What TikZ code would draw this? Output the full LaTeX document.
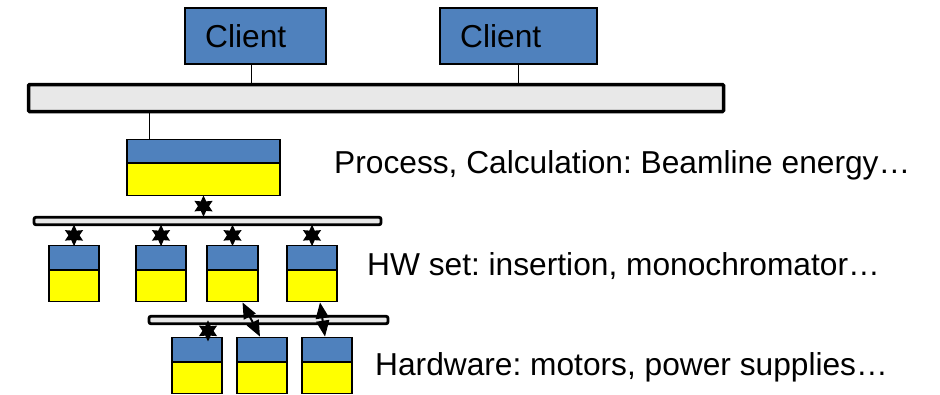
\documentclass[tikz,border=0pt]{standalone}
\usepackage{fontspec}
\setmainfont{Liberation Sans}
\usetikzlibrary{shapes.geometric,arrows.meta,calc}
\definecolor{boxblue}{HTML}{4F81BD}
\definecolor{boxyellow}{HTML}{FFFF00}
\definecolor{busgray}{HTML}{E8E8E8}
\frenchspacing
\tikzset{
  lbl/.style={inner sep=0pt, font=\fontsize{31.7}{36}\selectfont},
  clientbox/.style={draw=black, line width=2pt, fill=boxblue, inner sep=0pt, minimum height=56pt},
  bigbus/.style={draw=black, line width=3.5pt, fill=busgray, inner sep=0pt, rounded corners=1pt},
  smallbus/.style={draw=black, line width=2.8pt, fill=busgray, inner sep=0pt, rounded corners=2pt, minimum height=7.5pt},
  twotone/.style={draw=black, line width=1.8pt, fill=boxyellow, inner sep=0pt, minimum height=56pt,
    path picture={
      \fill[boxblue] (path picture bounding box.north west) rectangle
        ($(path picture bounding box.north east)!#1!(path picture bounding box.south east)$);
      \draw[line width=1.8pt] ($(path picture bounding box.north west)!#1!(path picture bounding box.south west)$) --
        ($(path picture bounding box.north east)!#1!(path picture bounding box.south east)$);
    }},
  twotone/.default=0.43,
  conn/.style={draw=black, line width=1pt},
  starmark/.style={star, star points=6, star point ratio=1.9, minimum size=21pt, fill=black, inner sep=0pt, draw=none},
  dblarrow/.style={draw=black, line width=2pt, {Triangle[length=16pt,width=13pt]}-{Triangle[length=16pt,width=13pt]}}
}
\begin{document}
\begin{tikzpicture}[x=1pt,y=-1pt]
\useasboundingbox (0,0) rectangle (940,394);

% clients
\node[clientbox, minimum width=141pt] (c1) at (255,36) {};
\node[clientbox, minimum width=157pt] (c2) at (518,35.5) {};
\node[lbl, anchor=base west] (c1t) at (205,47) {Client};
\node[lbl, anchor=base west] (c2t) at (460,47) {Client};

% main bus
\node[bigbus, minimum width=695pt, minimum height=27pt] (bus) at (376,98) {};
\draw[conn] ([xshift=-4pt]c1.south) -- ([xshift=-4pt]c1.south |- bus.north);
\draw[conn] (c2.south) -- (c2.south |- bus.north);

% process box
\node[twotone=0.42, minimum width=153pt] (proc) at (203.5,167.5) {};
\path (proc.north west) ++(23pt,0) coordinate (pl);
\draw[conn] (pl) -- (pl |- bus.south);

% HW bus
\node[smallbus, minimum width=347pt] (hwbus) at (207.5,221) {};
\draw[conn] (proc.south) -- (proc.south |- hwbus.north) node[midway, starmark] (s0) {};

% HW boxes
\node[twotone=0.44, minimum width=50pt] (h1) at (74,273.5) {};
\node[twotone=0.44, minimum width=50pt] (h2) at (161,273.5) {};
\node[twotone=0.44, minimum width=51pt] (h3) at (232.5,273.5) {};
\node[twotone=0.44, minimum width=50pt] (h4) at (312,273.5) {};
\foreach \h in {h1,h2,h3,h4}{
  \draw[conn] (\h.north) -- (\h.north |- hwbus.south) node[midway, starmark] {};
}

% hardware bus
\node[smallbus, minimum width=239pt] (hw2) at (268.5,320) {};

% lower boxes
\node[twotone=0.44, minimum width=50pt] (l1) at (197,365.5) {};
\node[twotone=0.44, minimum width=50pt] (l2) at (262,365.5) {};
\node[twotone=0.44, minimum width=50pt] (l3) at (327,365.5) {};
\draw[conn] ([xshift=11pt]l1.north) -- ([xshift=11pt]l1.north |- hw2.south) node[midway, starmark] {};

\draw[dblarrow] ([xshift=10pt]h3.south) -- ([xshift=-2pt]l2.north);
\draw[dblarrow] ([xshift=8pt]h4.south) -- ([xshift=-2pt]l3.north);

% labels
\node[lbl, anchor=base west] (t1) at (334,173) {Process, Calculation: Beamline energy…};
\node[lbl, anchor=base west] (t2) at (367,275) {HW set: insertion, monochromator…};
\node[lbl, anchor=base west] (t3) at (375,375) {Hardware: motors, power supplies…};
\end{tikzpicture}
\end{document}
